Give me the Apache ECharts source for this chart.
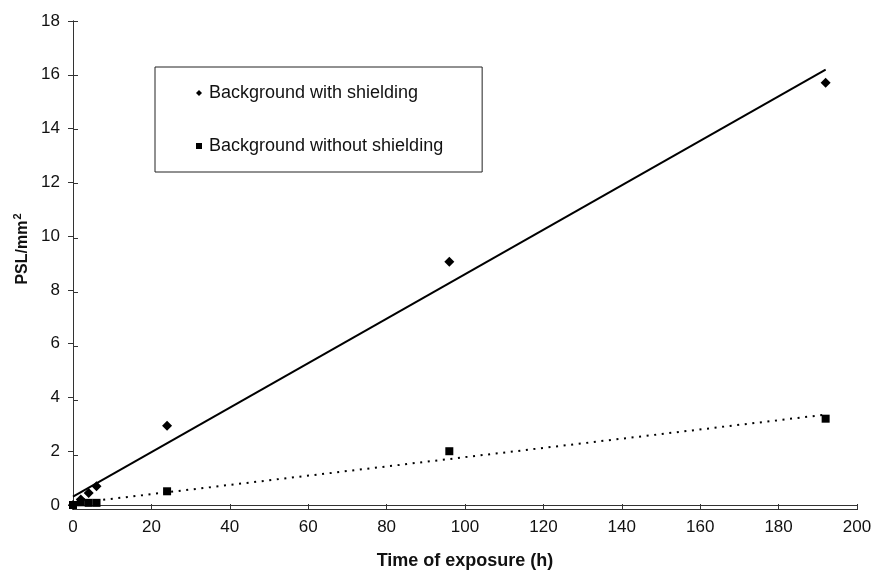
<!DOCTYPE html>
<html><head><meta charset="utf-8">
<script src="https://cdn.jsdelivr.net/npm/echarts@6/dist/echarts.min.js"></script>
<style>html,body{margin:0;padding:0;background:#fff}#c{width:875px;height:575px}</style>
</head><body><div id="c"></div>
<script>
// Data
const hours = [0, 2, 4, 6, 24, 96, 192];
const pslWithShielding = [0, 0.2, 0.45, 0.7, 2.95, 9.05, 15.7];
const pslWithoutShielding = [0, 0.1, 0.08, 0.08, 0.51, 2.0, 3.21];
// Linear trend lines (end points)
const trendX = [0, 192];
const trendWithY = [0.31, 16.19];
const trendWithoutY = [0.06, 3.36];
const seriesNames = ['Background with shielding', 'Background without shielding'];
const xTitle = 'Time of exposure (h)';
const yTitleBase = 'PSL/mm';
const yTitleSup = '2';

const zip = (a, b) => a.map((v, i) => [v, b[i]]);
const FONT = '"Liberation Sans", Arial, sans-serif';
const INK = '#111';
const AX = '#333';

const chart = echarts.init(document.getElementById('c'), null, {renderer: 'canvas'});
const gridBox = {left: 73, right: 18, top: 21, bottom: 66, containLabel: false};
const xRange = {type: 'value', min: 0, max: 200, interval: 20, splitLine: {show: false}};
const yRange = {type: 'value', min: 0, max: 18, interval: 2, splitLine: {show: false}};

chart.setOption({
  animation: false,
  backgroundColor: '#fff',
  textStyle: {fontFamily: FONT},
  grid: [Object.assign({}, gridBox), Object.assign({}, gridBox)],
  xAxis: [
    Object.assign({}, xRange, {
      gridIndex: 0, position: 'bottom',
      axisLine: {show: true, onZero: false, lineStyle: {color: AX, width: 1}},
      axisTick: {show: true, length: 5, lineStyle: {color: AX}},
      axisLabel: {color: INK, fontSize: 17, margin: 14, fontFamily: FONT},
      name: xTitle, nameLocation: 'middle', nameGap: 47,
      nameTextStyle: {color: INK, fontSize: 18, fontWeight: 'bold', fontFamily: FONT}
    }),
    Object.assign({}, xRange, {
      gridIndex: 1, position: 'bottom',
      axisLine: {show: true, onZero: false, lineStyle: {color: AX, width: 1}},
      axisTick: {show: true, inside: true, length: 5, lineStyle: {color: AX, width: 1}},
      axisLabel: {show: false}
    })
  ],
  yAxis: [
    Object.assign({}, yRange, {
      gridIndex: 0, position: 'left',
      axisLine: {show: true, onZero: false, lineStyle: {color: AX, width: 1}},
      axisTick: {show: true, length: 5, lineStyle: {color: AX}},
      axisLabel: {color: INK, fontSize: 17, margin: 13, fontFamily: FONT},
      name: '{a|' + yTitleBase + '}{b|' + yTitleSup + '}',
      nameLocation: 'middle', nameGap: 38, nameRotate: 90,
      nameTextStyle: {color: INK, fontSize: 16, fontWeight: 'bold', fontFamily: FONT,
        padding: [0, 0, 0, 28],
        rich: {
          a: {fontSize: 16, fontWeight: 'bold', color: INK, fontFamily: FONT},
          b: {fontSize: 11, fontWeight: 'bold', color: INK, fontFamily: FONT, padding: [0, 0, 9, 1]}
        }}
    }),
    Object.assign({}, yRange, {
      gridIndex: 1, position: 'left',
      axisLine: {show: true, onZero: false, lineStyle: {color: AX, width: 1}},
      axisTick: {show: true, inside: true, length: 5, lineStyle: {color: AX, width: 1}},
      axisLabel: {show: false}
    })
  ],
  legend: {
    data: [
      {name: seriesNames[0], icon: 'diamond'},
      {name: seriesNames[1], icon: 'rect'}
    ],
    orient: 'vertical',
    left: 155, top: 67,
    padding: [17, 39, 17, 41],
    itemGap: 35,
    itemWidth: 6, itemHeight: 6,
    borderColor: '#222', borderWidth: 1,
    textStyle: {color: INK, fontSize: 18, fontFamily: FONT, padding: [0, 0, 0, 2]}
  },
  series: [
    {
      name: 'trend1', type: 'line', data: zip(trendX, trendWithY),
      xAxisIndex: 0, yAxisIndex: 0,
      symbol: 'none', silent: true,
      lineStyle: {color: '#000', width: 2, type: 'solid'}
    },
    {
      name: 'trend2', type: 'line', data: zip(trendX, trendWithoutY),
      xAxisIndex: 0, yAxisIndex: 0,
      symbol: 'none', silent: true,
      lineStyle: {color: '#000', width: 2, type: [2, 5.6]}
    },
    {
      name: seriesNames[0], type: 'scatter', data: zip(hours, pslWithShielding),
      xAxisIndex: 0, yAxisIndex: 0,
      symbol: 'diamond', symbolSize: [10, 10],
      itemStyle: {color: '#000', opacity: 1}
    },
    {
      name: seriesNames[1], type: 'scatter', data: zip(hours, pslWithoutShielding),
      xAxisIndex: 0, yAxisIndex: 0,
      symbol: 'rect', symbolSize: 8,
      itemStyle: {color: '#000', opacity: 1}
    }
  ]
});
</script>
</body></html>
